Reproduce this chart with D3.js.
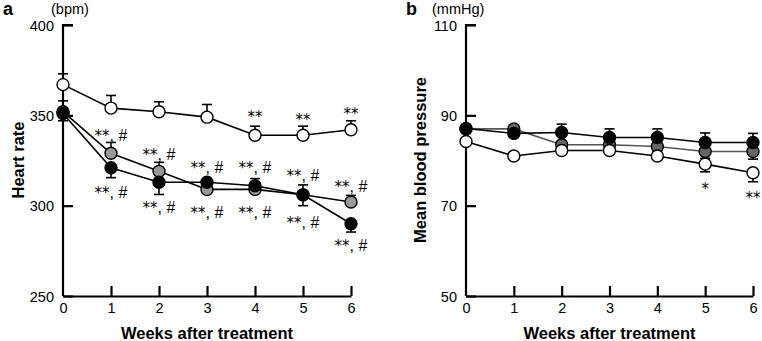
<!DOCTYPE html>
<html>
<head>
<meta charset="utf-8">
<script src="https://cdn.jsdelivr.net/npm/d3@7"></script>
<style>
  body { margin: 0; background: #fff; }
  svg { display: block; font-family: "Liberation Sans", Arial, Helvetica, sans-serif; }
</style>
</head>
<body>
<svg width="762" height="341"></svg>
<script>
// weeks after treatment
const weeks = [0, 1, 2, 3, 4, 5, 6];

// panel a - heart rate (bpm)
const hrWhite = [367, 354, 352, 349, 339, 339, 342];
const hrWhiteErr = [6, 7, 5.5, 7, 5, 5, 5];
const hrGray = [352, 329, 319, 309, 309, 306, 302];
const hrGrayErr = [6, 6, 5, 6, 6, 5.5, 3.7];
const hrBlack = [351, 321, 313, 313, 311, 306, 290];
const hrBlackErr = [4, 5.5, 6.8, 3, 3, 6, 4.6];
const hrTicks = [250, 300, 350, 400];
// significance marks (baseline level in bpm)
const hrSigAbove = [null, 335.8, 325.1, 317.9, 317.9, 313.6, 307.5];
const hrSigBelow = [null, 304.3, 296, 293.2, 293.2, 287.7, 275.1];
const hrSigWhite = [null, null, null, null, 346.5, 344.6, 347.9];

// panel b - mean blood pressure (mmHg)
const bpWhite = [84.2, 81.0, 82.2, 82.2, 81.0, 79.2, 77.3];
const bpWhiteErr = [0.5, 0.5, 0.5, 0.5, 0.5, 1.7, 2.0];
const bpGray = [87.0, 87.0, 83.5, 83.5, 83.1, 82.0, 82.0];
const bpGrayErr = [1, 1, 1, 1, 1, 1.5, 1.7];
const bpBlack = [87.1, 86.0, 86.2, 85.1, 85.1, 84.0, 84.0];
const bpBlackErr = [0.5, 0.5, 1.85, 1.9, 1.9, 2.1, 2.0];
const bpTicks = [50, 70, 90, 110];
const bpSigWhite = [null, null, null, null, null, 72.6, 70.6];
const bpSigWhiteText = [null, null, null, null, null, '*', '**'];

const svg = d3.select('svg');
const font = '"Liberation Sans", Arial, Helvetica, sans-serif';

function drawPanel(p) {
    const g = svg.append('g');
    const x = d3.scaleLinear().domain([0, 6]).range([p.x0, p.x1]);
    const y = d3.scaleLinear().domain(p.domain).range([296, 25]);

    // axes
    const yAxis = d3.axisLeft(y).tickValues(p.ticks).tickFormat(d3.format('d')).tickSize(-10).tickSizeOuter(0);
    const gy = g.append('g').attr('transform', 'translate(' + p.x0 + ',0)').call(yAxis);
    const xAxis = d3.axisBottom(x).tickValues(weeks).tickFormat(d3.format('d')).tickSize(-10).tickSizeOuter(0);
    const gx = g.append('g').attr('transform', 'translate(0,296)').call(xAxis);
    [gx, gy].forEach(a => {
        a.select('.domain').attr('stroke', '#000').attr('stroke-width', 2.2);
        a.selectAll('.tick line').attr('stroke', '#000').attr('stroke-width', 2.2);
        a.selectAll('.tick text').attr('fill', '#000').style('font-size', '14.5px').style('font-family', font);
    });
    gx.selectAll('.tick').filter(d => d === 0).select('line').remove();
    gy.selectAll('.tick text').attr('dy', '0.36em').attr('x', -9);
    gx.selectAll('.tick text').attr('y', 7);
    gy.select('.domain').attr('d', 'M0,' + y(p.domain[0]) + 'V' + y(p.domain[1]) + 'H10');

    // labels
    g.append('text').attr('x', p.x0 - 60).attr('y', 15)
        .style('font-size', '18px').style('font-weight', 'bold').text(p.letter);
    g.append('text').attr('x', p.unitX).attr('y', 14)
        .style('font-size', '14.5px').text(p.unit);
    g.append('text')
        .attr('transform', 'translate(' + p.titleX + ',160) rotate(-90)')
        .attr('text-anchor', 'middle')
        .style('font-size', '16.5px').style('font-weight', 'bold').text(p.title);
    g.append('text').attr('x', (p.x0 + p.x1) / 2).attr('y', 339)
        .attr('text-anchor', 'middle')
        .style('font-size', '16.5px').style('font-weight', 'bold').text('Weeks after treatment');

    const line = d3.line().x((d, i) => x(weeks[i])).y(d => y(d));

    p.series.forEach(s => {
        // error bars
        s.values.forEach((v, i) => {
            const e = s.err[i];
            const end = y(v + s.dir * e);
            g.append('line').attr('x1', x(weeks[i])).attr('x2', x(weeks[i]))
                .attr('y1', y(v)).attr('y2', end)
                .attr('stroke', '#000').attr('stroke-width', 1.6);
            g.append('line').attr('x1', x(weeks[i]) - 5).attr('x2', x(weeks[i]) + 5)
                .attr('y1', end).attr('y2', end)
                .attr('stroke', '#000').attr('stroke-width', 1.6);
        });
    });

    p.series.forEach(s => {
        g.append('path').datum(s.values)
            .attr('fill', 'none').attr('stroke', s.lineColor).attr('stroke-width', 1.6)
            .attr('d', line);
        g.selectAll(null).data(s.values).enter().append('circle')
            .attr('cx', (d, i) => x(weeks[i])).attr('cy', d => y(d))
            .attr('r', 6)
            .attr('fill', s.fill).attr('stroke', '#000').attr('stroke-width', 1.4);
    });

    // significance marks: asterisks in a fuller glyph, rest in the main font
    p.sigs.forEach(sg => {
        sg.levels.forEach((lv, i) => {
            if (lv === null) return;
            const txt = sg.texts ? sg.texts[i] : sg.text;
            const stars = txt.match(/^\**/)[0];
            const rest = txt.slice(stars.length);
            const t = g.append('text').attr('x', x(weeks[i])).attr('y', y(lv))
                .attr('text-anchor', 'middle');
            t.append('tspan').style('font-family', '"DejaVu Sans", sans-serif')
                .style('font-size', '15px').text(stars);
            if (rest) t.append('tspan').style('font-size', '16px').text(rest);
        });
    });
}

drawPanel({
    x0: 63, x1: 351, domain: [250, 400], ticks: hrTicks,
    letter: 'a', unit: '(bpm)', unitX: 51, title: 'Heart rate', titleX: 24,
    series: [
        { values: hrGray, err: hrGrayErr, dir: 1, fill: '#999', lineColor: '#000' },
        { values: hrBlack, err: hrBlackErr, dir: -1, fill: '#000', lineColor: '#000' },
        { values: hrWhite, err: hrWhiteErr, dir: 1, fill: '#fff', lineColor: '#000' }
    ],
    sigs: [
        { levels: hrSigAbove, text: '**, #' },
        { levels: hrSigBelow, text: '**, #' },
        { levels: hrSigWhite, text: '**' }
    ]
});

drawPanel({
    x0: 466, x1: 753, domain: [50, 110], ticks: bpTicks,
    letter: 'b', unit: '(mmHg)', unitX: 432, title: 'Mean blood pressure', titleX: 426,
    series: [
        { values: bpGray, err: bpGrayErr, dir: -1, fill: '#666', lineColor: '#555' },
        { values: bpBlack, err: bpBlackErr, dir: 1, fill: '#000', lineColor: '#000' },
        { values: bpWhite, err: bpWhiteErr, dir: -1, fill: '#fff', lineColor: '#000' }
    ],
    sigs: [
        { levels: bpSigWhite, texts: bpSigWhiteText }
    ]
});
</script>
</body>
</html>
